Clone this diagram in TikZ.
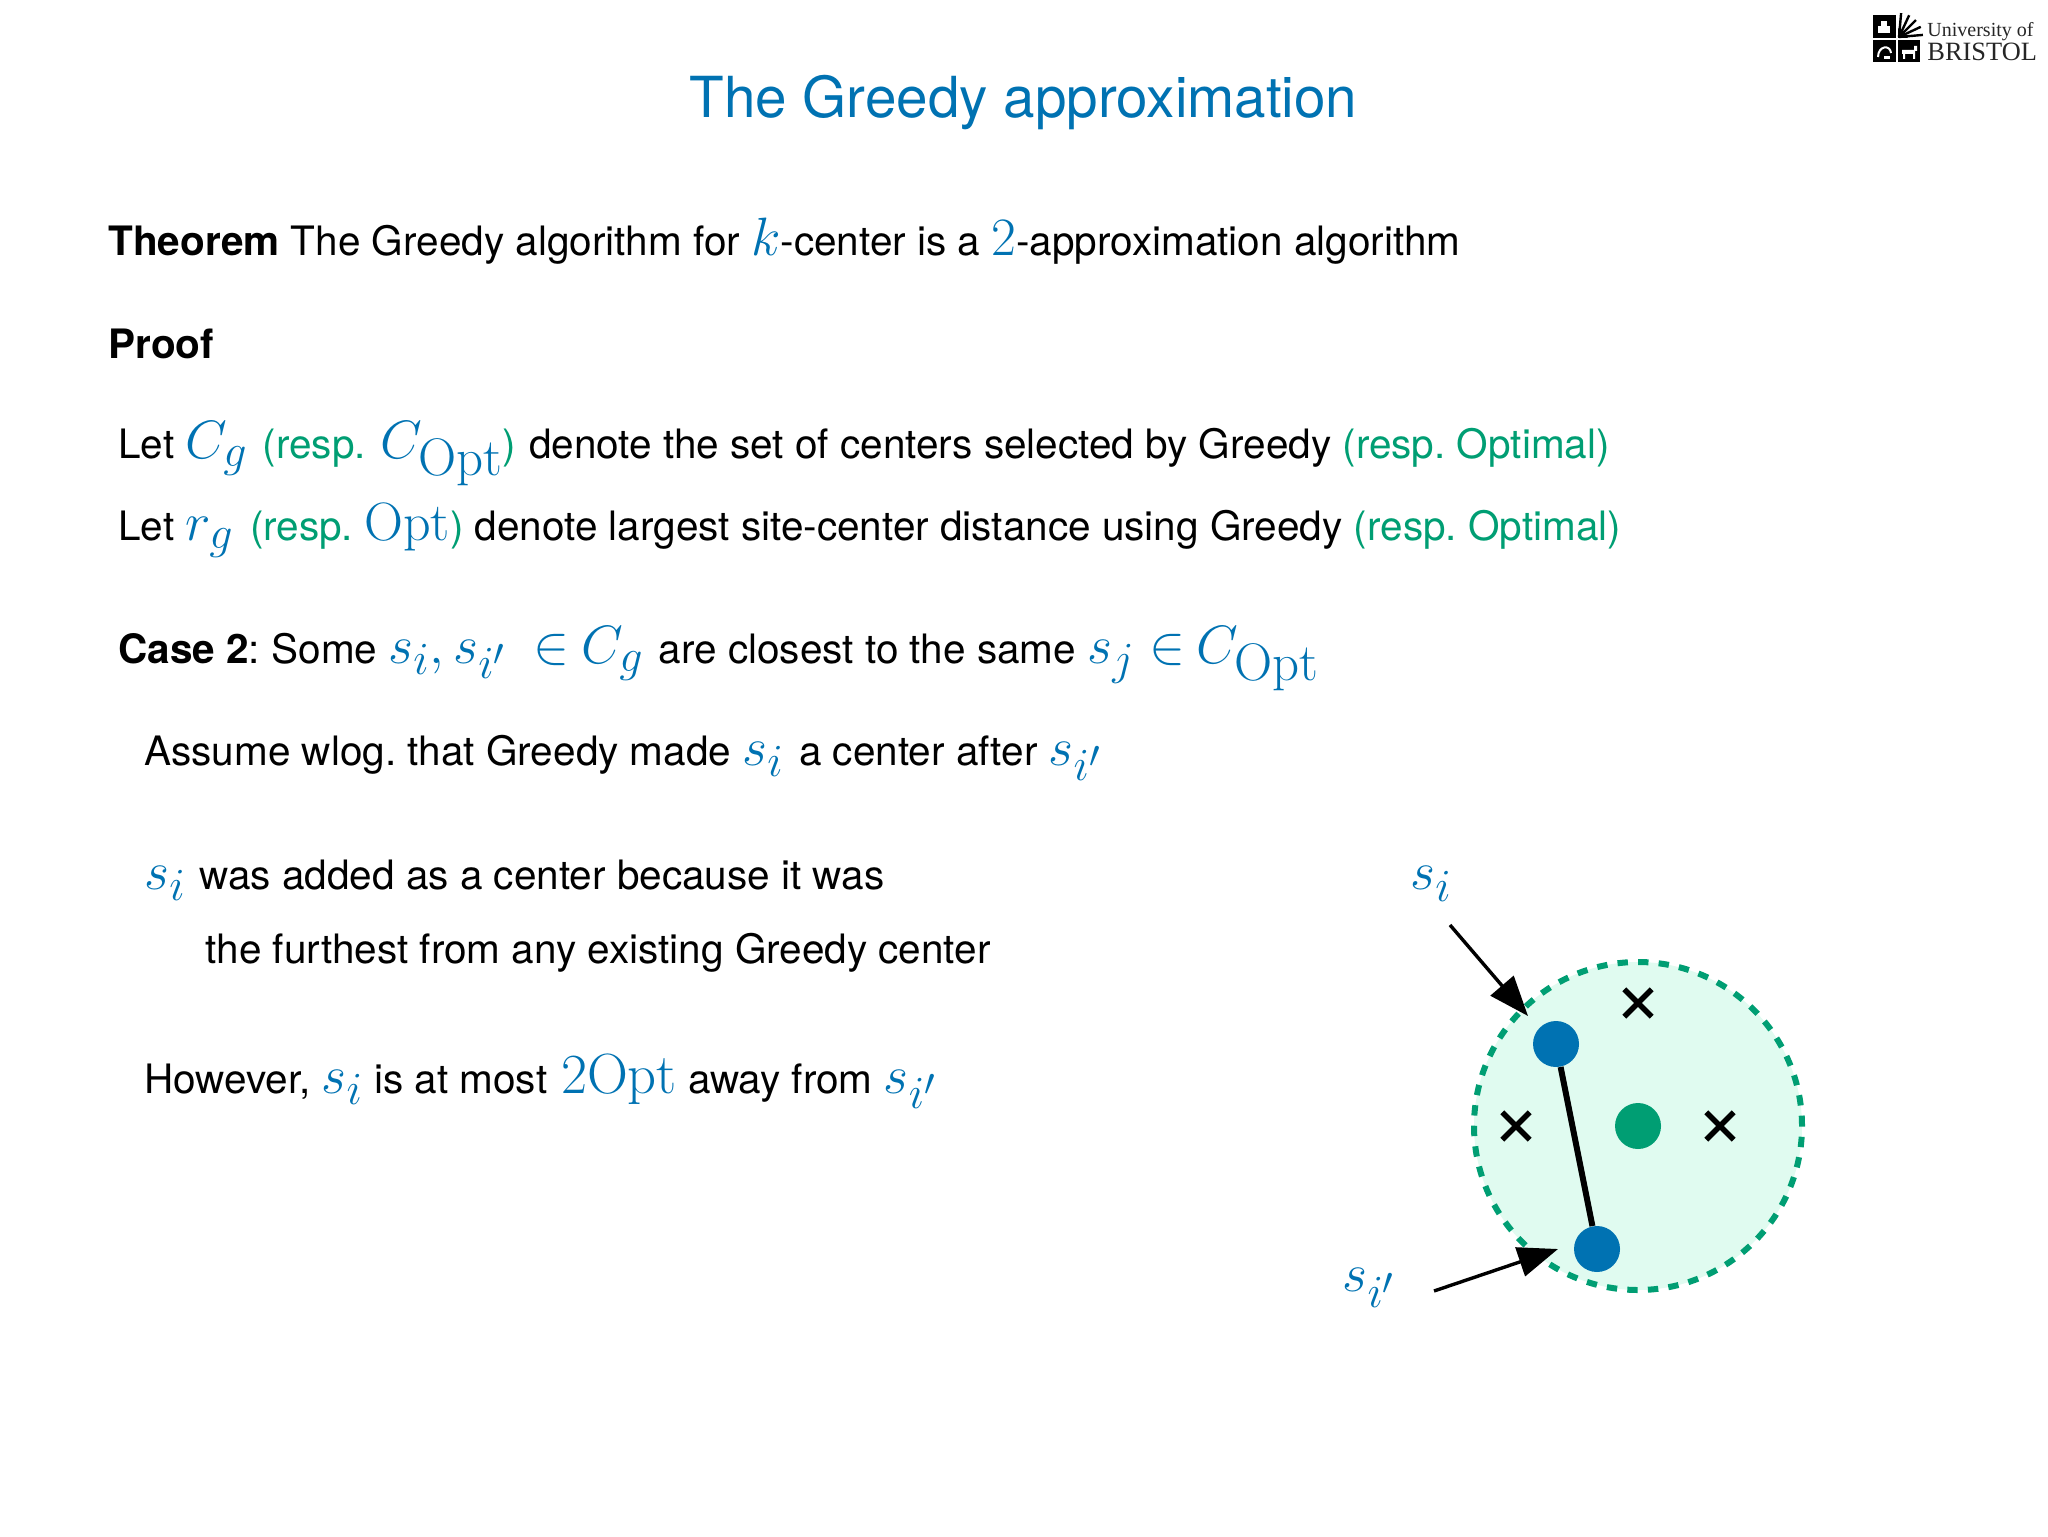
\RequirePackage{fix-cm}
\documentclass[tikz,border=0pt]{standalone}
\usepackage[no-math]{fontspec}
\setmainfont{TeX Gyre Heros}
\newfontfamily\logofont{Liberation Serif}
\usetikzlibrary{arrows.meta,shapes.misc}
\definecolor{ublue}{HTML}{0072B2}
\definecolor{ugreen}{HTML}{009E73}
\definecolor{ulight}{HTML}{E0FBF0}
\DeclareMathSizes{27}{27}{23}{19}
\AtBeginDocument{\frenchspacing}
\newcommand{\M}[1]{{\color{ublue}\fontsize{27}{27}\selectfont$#1$}}
\newcommand{\G}[1]{\textcolor{ugreen}{#1}}
\newcommand{\SubOpt}{\scalebox{1.15}{$\scriptstyle\mathrm{Opt}$}}
\tikzset{
  body/.style={anchor=base west,inner sep=0pt,font=\fontsize{20.25}{24}\selectfont,text=black},
  titletext/.style={anchor=base,inner sep=0pt,font=\fontsize{28.3}{32}\selectfont,text=ublue},
  sitelabel/.style={anchor=center,inner sep=0pt,text=ublue},
  bluedot/.style={circle,fill=ublue,minimum size=23pt,inner sep=0pt},
  greendot/.style={circle,fill=ugreen,minimum size=23pt,inner sep=0pt},
  site/.style={cross out,draw=black,line width=2.7pt,minimum size=11pt,inner sep=0pt},
  ball/.style={circle,draw=ugreen,fill=ulight,line width=3pt,dash pattern=on 5.2pt off 5.1pt,minimum size=164pt,inner sep=0pt},
  pointer/.style={draw=black,line width=1.7pt,-{Triangle[length=20pt,width=15pt]},shorten >=0pt},
  logotext/.style={anchor=base west,inner sep=0pt,text=black!85}
}
\begin{document}
\begin{tikzpicture}[x=0.5pt,y=-0.5pt]
\useasboundingbox (0,0) rectangle (2048,1536);
\node[titletext] (title) at (1023.5,118) {The Greedy approximation};
\node[body] (thm) at (108,255) {\textbf{Theorem} The Greedy algorithm for \M{k}-center is a \M{2}-approximation algorithm};
\node[body] (proof) at (108,358) {\textbf{Proof}};
\node[body] (l1) at (118,458) {Let \M{C_g}\kern2pt{} \G{(resp.}\kern1.5pt{} \M{C_{\SubOpt}}\G{)}\kern0.7pt{} denote the set of centers selected by Greedy \G{(resp. Optimal)}};
\node[body] (l2) at (118,540) {Let \M{r_g}\kern2.6pt{} \G{(resp.} \M{\mathrm{Opt}}\G{)} denote largest site-center distance using Greedy \G{(resp. Optimal)}};
\node[body] (case) at (118,663) {\textbf{Case 2}: Some \M{s_i, s_{i'}\kern5.9pt{} \in\kern-1.3pt{} C_g}\kern2pt{} are closest to the same \M{s_j \in\kern-2pt{} C_{\SubOpt}}};
\node[body] (l3) at (144,765) {Assume wlog. that Greedy made \M{s_i}\kern2pt{} a center after \M{s_{i'}}};
\node[body] (l4) at (144,889) {\M{s_i}\kern1.3pt{} was added as a center because it was};
\node[body] (l5) at (205,963) {the furthest from any existing Greedy center};
\node[body] (l6) at (144,1093) {However, \M{s_i} is at most\kern1.3pt{} {\color{ublue}\scalebox{1.05}{\M{2\mathrm{Opt}}}} away from \M{s_{i'}}};
% diagram
\node[ball] (disc) at (1638,1126) {};
\node[site] (x1) at (1638,1003) {};
\node[site] (x2) at (1516,1126) {};
\node[site] (x3) at (1720,1126) {};
\node[greendot] (c) at (1638,1126) {};
\node[bluedot] (si) at (1556,1044) {};
\node[bluedot] (sip) at (1597,1249) {};
\draw[line width=3pt] (si) -- (sip);
\node[sitelabel] (li) at (1431,884) {\M{s_i}};
\node[sitelabel] (lip) at (1369,1288) {\M{s_{i'}}};
\coordinate (a1s) at (1450,925);
\coordinate (a1e) at (1528,1016);
\coordinate (a2s) at (1434,1291);
\coordinate (a2e) at (1558,1249);
\draw[pointer] (a1s) -- (a1e);
\draw[pointer] (a2s) -- (a2e);
% logo
\fill[black] (1873,15) rectangle (1896,38);
\fill[black] (1873,40) rectangle (1896,62);
\fill[black] (1898,40) rectangle (1920,62);
\fill[white] (1878,26) rectangle (1890,33);
\fill[white] (1881,21) rectangle (1887,26);
\draw[white,line width=1pt] (1878,57) .. controls (1878,46) and (1890,44) .. (1891,53);
\fill[white] (1884,56) rectangle (1890,59);
\fill[white] (1902,50) rectangle (1915,54) (1903,54) rectangle (1905,59) (1913,54) rectangle (1915,59) (1914,46) rectangle (1917,51);
\fill[black] (1898,38) -- (1898,28) -- (1908,38) -- cycle;
\foreach \a in {5,25,45,65,85}{
  \draw[line width=1.2pt] (1899,37) -- ++({-\a}:24);
}
\node[logotext,font=\logofont\fontsize{10}{12}\selectfont] (u) at (1927,37) {University of};
\node[logotext,font=\logofont\fontsize{13.2}{16}\selectfont] (b) at (1927,61) {BRISTOL};
\end{tikzpicture}
\end{document}
